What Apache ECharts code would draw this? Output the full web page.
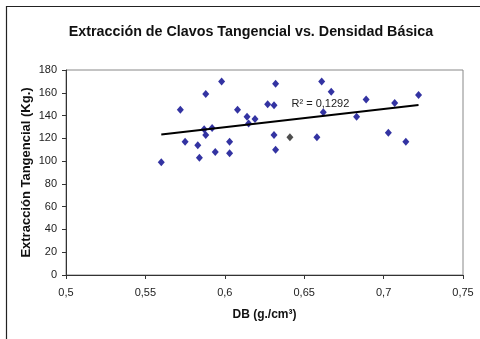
<!DOCTYPE html>
<html>
<head>
<meta charset="utf-8">
<style>
  html, body { margin: 0; padding: 0; background: #fff; }
  #chart { width: 480px; height: 339px; }
</style>
<script src="https://cdn.jsdelivr.net/npm/echarts@6/dist/echarts.min.js"></script>
</head>
<body>
<div id="chart"></div>
<script>
// Basic density (g/cm³) and tangential nail withdrawal (kg) per specimen
const density = [
  0.560, 0.572, 0.575, 0.583, 0.584, 0.587, 0.588, 0.588, 0.592, 0.594,
  0.598, 0.603, 0.603, 0.608, 0.614, 0.615, 0.619, 0.627, 0.631, 0.631,
  0.632, 0.632, 0.658, 0.661, 0.662, 0.667, 0.683, 0.689, 0.703, 0.707,
  0.714, 0.722
];
const extraction = [
  99, 145, 117, 114, 103, 128, 123, 159, 129, 108,
  170, 107, 117, 145, 139, 133, 137, 150, 149, 123,
  168, 110, 121, 170, 143, 161, 139, 154, 125, 151,
  117, 158
];
// one specimen plotted in a darker marker
const darkDensity = [0.641];
const darkExtraction = [121];

const xTicks = [0.5, 0.55, 0.6, 0.65, 0.7, 0.75];
const yTicks = [0, 20, 40, 60, 80, 100, 120, 140, 160, 180];
const r2Text = 'R\u00b2 = 0,1292';

// least-squares fit over all specimens
const allX = density.concat(darkDensity);
const allY = extraction.concat(darkExtraction);
const n = allX.length;
const mx = allX.reduce((a, b) => a + b, 0) / n;
const my = allY.reduce((a, b) => a + b, 0) / n;
let sxy = 0, sxx = 0;
for (let i = 0; i < n; i++) {
  sxy += (allX[i] - mx) * (allY[i] - my);
  sxx += (allX[i] - mx) * (allX[i] - mx);
}
const slope = sxy / sxx;
const intercept = my - slope * mx;
const xMin = Math.min(...allX), xMax = Math.max(...allX);
const trend = [[xMin, intercept + slope * xMin], [xMax, intercept + slope * xMax]];

const font = '"Liberation Sans", Arial, sans-serif';
const comma = v => String(v).replace('.', ',');

const chart = echarts.init(document.getElementById('chart'));
chart.setOption({
  animation: false,
  backgroundColor: '#fff',
  textStyle: { fontFamily: font },
  title: {
    text: 'Extracción de Clavos Tangencial vs. Densidad Básica',
    left: 246, top: 20, textAlign: 'center',
    textStyle: { fontFamily: font, fontSize: 14.3, fontWeight: 'bold', color: '#111' }
  },
  graphic: [{
    type: 'rect', silent: true,
    shape: { x: 6.5, y: 6.5, width: 700, height: 700 },
    style: { fill: 'none', stroke: '#222', lineWidth: 1.2 }
  }],
  grid: { left: 66, top: 70, right: 17, bottom: 64, show: true, borderColor: '#888', borderWidth: 1 },
  xAxis: {
    type: 'value', min: 0.5, max: 0.75, interval: 0.05,
    name: 'DB (g./cm\u00b3)', nameLocation: 'middle', nameGap: 34,
    nameMoveOverlap: false,
    nameTextStyle: { fontFamily: font, fontSize: 12, fontWeight: 'bold', color: '#111' },
    axisLine: { lineStyle: { color: '#333', width: 1 } },
    axisTick: { show: true, length: 4, lineStyle: { color: '#333' } },
    axisLabel: {
      margin: 12, fontSize: 11, color: '#222', fontFamily: font,
      formatter: v => {
        const t = xTicks.find(k => Math.abs(k - v) < 1e-9);
        return t === undefined ? '' : comma(t);
      }
    },
    splitLine: { show: false }
  },
  yAxis: {
    type: 'value', min: 0, max: 180, interval: 20,
    name: 'Extracción Tangencial (Kg.)', nameLocation: 'middle', nameGap: 33,
    nameMoveOverlap: false,
    nameTextStyle: { fontFamily: font, fontSize: 13, fontWeight: 'bold', color: '#111' },
    axisLine: { show: true, lineStyle: { color: '#333', width: 1 } },
    axisTick: { show: true, length: 4, lineStyle: { color: '#333' } },
    axisLabel: {
      margin: 9, fontSize: 11, color: '#222', fontFamily: font,
      formatter: v => (yTicks.indexOf(v) >= 0 ? String(v) : '')
    },
    splitLine: { show: false }
  },
  series: [
    {
      type: 'scatter', symbol: 'diamond', symbolSize: [7, 8],
      itemStyle: { color: '#00008b' },
      data: density.map((d, i) => [d, extraction[i]]),
      z: 3
    },
    {
      type: 'scatter', symbol: 'diamond', symbolSize: [7, 8],
      itemStyle: { color: '#222' },
      data: darkDensity.map((d, i) => [d, darkExtraction[i]]),
      z: 3
    },
    {
      type: 'line', data: trend, symbol: 'none',
      lineStyle: { color: '#000', width: 2 },
      z: 4,
      markPoint: {
        symbol: 'circle', symbolSize: 0,
        data: [{ coord: [0.642, 150] }],
        label: {
          show: true, position: 'right', distance: 0,
          formatter: r2Text, fontFamily: font, fontSize: 11, color: '#222'
        }
      }
    }
  ]
});
</script>
</body>
</html>
